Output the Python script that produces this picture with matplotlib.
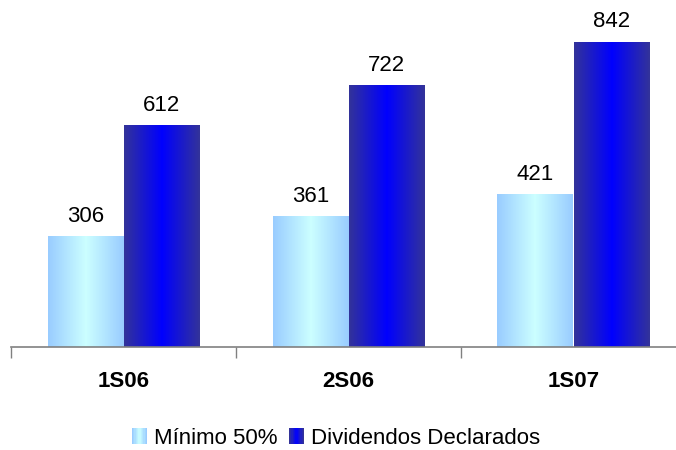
import numpy as np
import matplotlib.pyplot as plt
from matplotlib.colors import LinearSegmentedColormap
from matplotlib.patches import Rectangle
from matplotlib.legend_handler import HandlerBase

plt.rcParams['font.family'] = ['Liberation Sans', 'DejaVu Sans']

categories = ['1S06', '2S06', '1S07']
minimo = [306, 361, 421]
dividendos = [612, 722, 842]
series_names = ['Mínimo 50%', 'Dividendos Declarados']

light_cmap = LinearSegmentedColormap.from_list('light', ['#99ccff', '#ccffff', '#99ccff'])
dark_cmap = LinearSegmentedColormap.from_list('dark', ['#333399', '#0000ff', '#333399'])
grad = np.linspace(0, 1, 256).reshape(1, -1)


def gradient_bars(ax, bars, cmap):
    for b in bars:
        x0, y0 = b.get_x(), b.get_y()
        w, h = b.get_width(), b.get_height()
        im = ax.imshow(grad, cmap=cmap, aspect='auto', extent=[x0, x0 + w, y0, y0 + h],
                       interpolation='bilinear', zorder=2)
        im.set_clip_path(b)


class GradHandler(HandlerBase):
    def __init__(self, cmap):
        super().__init__()
        self.cmap = cmap

    def create_artists(self, legend, orig_handle, xdescent, ydescent, width, height, fontsize, trans):
        n = 12
        size = height * 1.0
        x0 = width - size - xdescent
        y0 = -ydescent + (height - size) / 2
        arts = []
        for k in range(n):
            r = Rectangle((x0 + k * size / n, y0), size / n + 0.05, size,
                          facecolor=self.cmap(k / (n - 1)), edgecolor='none', transform=trans)
            arts.append(r)
        return arts


fig = plt.figure(figsize=(6.76, 4.5), dpi=100)
ax = fig.add_axes([11 / 676, 1 - 347 / 450, 675 / 676, 337 / 450])

x = np.arange(len(categories)) + 0.5
w = 76 / 225
b1 = ax.bar(x - w / 2, minimo, w, color='none', edgecolor='none', zorder=2)
b2 = ax.bar(x + w / 2, dividendos, w, color='none', edgecolor='none', zorder=2)
gradient_bars(ax, b1, light_cmap)
gradient_bars(ax, b2, dark_cmap)

for xi, v in zip(x - w / 2, minimo):
    ax.text(xi, v + 26, str(v), ha='center', va='bottom', fontsize=16)
for xi, v in zip(x + w / 2, dividendos):
    ax.text(xi, v + 26, str(v), ha='center', va='bottom', fontsize=16)

ax.set_xlim(0, 3)
ax.set_ylim(0, 930)
ax.set_xticks([0, 1, 2, 3])
ax.set_xticklabels([])
ax.set_xticks(x, minor=True)
ax.set_xticklabels(categories, minor=True, fontsize=16, fontweight='bold')
ax.tick_params(axis='x', which='major', length=8, width=1, color='#808080', direction='out')
ax.tick_params(axis='x', which='minor', length=0, pad=17)
ax.set_yticks([])
for s in ['top', 'right', 'left']:
    ax.spines[s].set_visible(False)
ax.spines['bottom'].set_color('#808080')
ax.spines['bottom'].set_linewidth(1.2)
ax.set_zorder(1)

h1 = Rectangle((0, 0), 1, 1)
h2 = Rectangle((0, 0), 1, 1)
fig.legend([h1, h2], series_names, loc='center', bbox_to_anchor=(337 / 676, 1 - 438 / 450),
           ncol=2, frameon=False, fontsize=16, handlelength=0.6, handletextpad=0.3,
           columnspacing=0.6, handler_map={h1: GradHandler(light_cmap), h2: GradHandler(dark_cmap)})

fig.savefig('out.png', dpi=100)
